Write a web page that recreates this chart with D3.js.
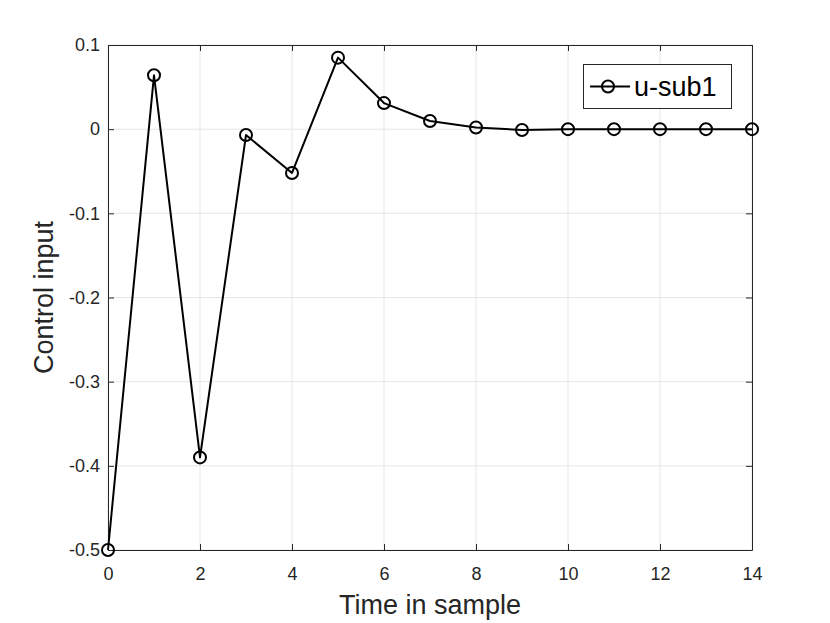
<!DOCTYPE html>
<html>
<head>
<meta charset="utf-8">
<script src="https://cdn.jsdelivr.net/npm/d3@7.9.0/dist/d3.min.js"></script>
<style>
  body { margin: 0; background: #fff; }
  svg text { font-family: "Liberation Sans", Arial, sans-serif; fill: #262626; }
  .axis text { font-size: 18px; }
</style>
</head>
<body>
<svg id="chart" width="830" height="623"></svg>
<script>
const samples = [0, 1, 2, 3, 4, 5, 6, 7, 8, 9, 10, 11, 12, 13, 14];
const uSub1 = [-0.5, 0.064, -0.39, -0.007, -0.052, 0.085, 0.031, 0.0097, 0.002, -0.001, 0, 0, 0, 0, 0];
const xTicks = [0, 2, 4, 6, 8, 10, 12, 14];
const yTicks = [-0.5, -0.4, -0.3, -0.2, -0.1, 0, 0.1];
const seriesName = 'u-sub1';

const margin = { left: 108, right: 78, top: 45, bottom: 73 };
const width = 830, height = 623;

const svg = d3.select('#chart');

const x = d3.scaleLinear().domain([0, 14]).range([margin.left, width - margin.right]);
const y = d3.scaleLinear().domain([-0.5, 0.1]).range([height - margin.bottom, margin.top]);

const fmt = d => d === 0 ? '0' : String(d);

// grid
svg.append('g').selectAll('line').data(xTicks).join('line')
  .attr('x1', d => x(d)).attr('x2', d => x(d))
  .attr('y1', y(0.1)).attr('y2', y(-0.5))
  .attr('stroke', '#e6e6e6').attr('stroke-width', 1);
svg.append('g').selectAll('line').data(yTicks).join('line')
  .attr('y1', d => y(d)).attr('y2', d => y(d))
  .attr('x1', x(0)).attr('x2', x(14))
  .attr('stroke', '#e6e6e6').attr('stroke-width', 1);

// axes, ticks pointing inward (box on)
const axisColor = '#262626';
const gx = svg.append('g').attr('transform', `translate(0,${y(-0.5)})`)
  .call(d3.axisBottom(x).tickValues(xTicks).tickFormat(fmt).tickSizeInner(-6).tickSizeOuter(0).tickPadding(17));
const gxTop = svg.append('g').attr('transform', `translate(0,${y(0.1)})`)
  .call(d3.axisTop(x).tickValues(xTicks).tickFormat('').tickSizeInner(-6).tickSizeOuter(0));
const gy = svg.append('g').attr('transform', `translate(${x(0)},0)`)
  .call(d3.axisLeft(y).tickValues(yTicks).tickFormat(fmt).tickSizeInner(-6).tickSizeOuter(0).tickPadding(8));
const gyRight = svg.append('g').attr('transform', `translate(${x(14)},0)`)
  .call(d3.axisRight(y).tickValues(yTicks).tickFormat('').tickSizeInner(-6).tickSizeOuter(0));

[gx, gxTop, gy, gyRight].forEach(g => {
  g.attr('class', 'axis').attr('font-size', 18).attr('font-family', null);
  g.selectAll('path, line').attr('stroke', axisColor);
  g.selectAll('text').attr('fill', axisColor);
});

// series line + circle markers
const line = d3.line().x((d, i) => x(samples[i])).y(d => y(d));
svg.append('path').datum(uSub1)
  .attr('d', line).attr('fill', 'none')
  .attr('stroke', '#000').attr('stroke-width', 2).attr('stroke-linejoin', 'round');

svg.append('g').selectAll('circle').data(uSub1).join('circle')
  .attr('cx', (d, i) => x(samples[i])).attr('cy', d => y(d))
  .attr('r', 6).attr('fill', 'none').attr('stroke', '#000').attr('stroke-width', 2);

// axis labels
svg.append('text').attr('x', x(7)).attr('y', 614)
  .attr('text-anchor', 'middle').style('font-size', '27px').text('Time in sample');
svg.append('text').attr('transform', `translate(53,${y(-0.2)}) rotate(-90)`)
  .attr('text-anchor', 'middle').style('font-size', '27px').text('Control input');

// legend
const lg = svg.append('g');
lg.append('rect').attr('x', 583.5).attr('y', 64.5).attr('width', 148).attr('height', 44)
  .attr('fill', '#fff').attr('stroke', axisColor).attr('stroke-width', 1);
lg.append('line').attr('x1', 590).attr('x2', 630).attr('y1', 86.5).attr('y2', 86.5)
  .attr('stroke', '#000').attr('stroke-width', 2);
lg.append('circle').attr('cx', 608).attr('cy', 86.5).attr('r', 6)
  .attr('fill', 'none').attr('stroke', '#000').attr('stroke-width', 2);
lg.append('text').attr('x', 634).attr('y', 96).style('font-size', '27px').style('fill', '#000').text(seriesName);
</script>
</body>
</html>
